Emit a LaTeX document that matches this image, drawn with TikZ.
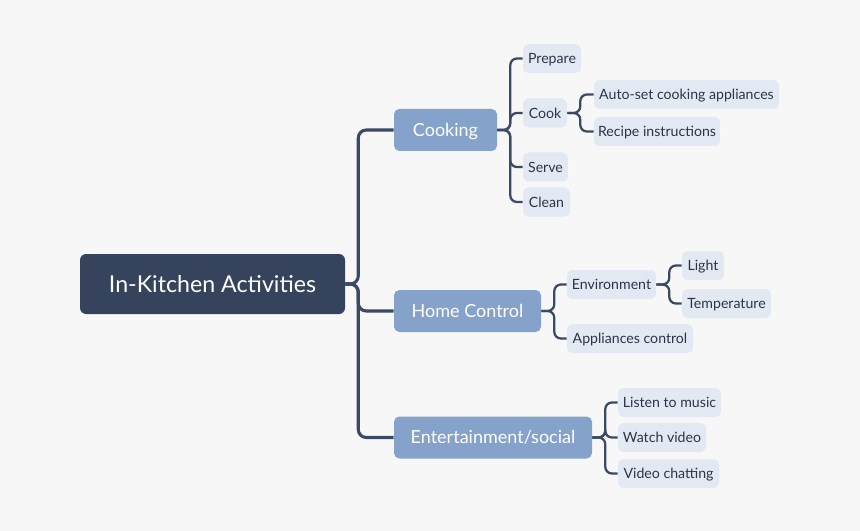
\documentclass[tikz,border=0pt]{standalone}
\usepackage{fontspec}
\setmainfont{Lato}
\usetikzlibrary{positioning}
\definecolor{bgcol}{HTML}{F7F7F7}
\definecolor{rootcol}{HTML}{35445C}
\definecolor{topiccol}{HTML}{84A2CA}
\definecolor{leafcol}{HTML}{E3E9F2}
\definecolor{linecol}{HTML}{3B4A63}
\definecolor{leaftext}{HTML}{2B3548}

\begin{document}
\begin{tikzpicture}[x=0.75pt,y=-0.75pt,
  boxw/.style={minimum width=#1*0.75pt},
  rootbox/.style={fill=rootcol, text=white, rounded corners=4.5pt, minimum height=45pt, text height=12.5pt, text depth=0pt, font=\fontsize{17.4}{19}\selectfont},
  topicbox/.style={fill=topiccol, text=white, rounded corners=4pt, minimum height=31.5pt, text height=9.7pt, text depth=0pt, font=\fontsize{13.5}{15}\selectfont},
  leafbox/.style={fill=leafcol, text=leaftext, rounded corners=4pt, minimum height=21.75pt, text height=7.6pt, text depth=0pt, inner xsep=0pt, font=\fontsize{10.6}{12}\selectfont},
  trunk/.style={draw=linecol, line width=2.3pt, rounded corners=6pt},
  link/.style={draw=linecol, line width=1.7pt, rounded corners=5pt}]
\fill[bgcol] (0,0) rectangle (860,531);
% root and main topics
\node[rootbox, boxw=265] (root) at (212.5,284) {In-Kitchen Activities};
\node[topicbox, boxw=103] (cooking) at (445.5,130) {Cooking};
\node[topicbox, boxw=147] (home) at (467.5,311) {Home Control};
\node[topicbox, boxw=198] (ent) at (493,437.5) {Entertainment/social};
% cooking
\node[leafbox, boxw=58] (prepare) at (552,58.5) {Prepare};
\node[leafbox, boxw=44] (cook) at (545,113) {Cook};
\node[leafbox, boxw=45] (serve) at (545.5,167) {Serve};
\node[leafbox, boxw=47] (clean) at (546.5,202) {Clean};
\node[leafbox, boxw=185] (auto) at (686.5,94.5) {Auto-set cooking appliances};
\node[leafbox, boxw=126] (recipe) at (657,131.5) {Recipe instructions};
% home control
\node[leafbox, boxw=89] (env) at (611.5,284.5) {Environment};
\node[leafbox, boxw=126] (appl) at (630,338.5) {Appliances control};
\node[leafbox, boxw=42] (light) at (703,265.5) {Light};
\node[leafbox, boxw=89] (temp) at (726.5,303.5) {Temperature};
% entertainment
\node[leafbox, boxw=103] (listen) at (669.5,402.5) {Listen to music};
\node[leafbox, boxw=88] (watch) at (662,437.5) {Watch video};
\node[leafbox, boxw=101] (chat) at (668.5,473.5) {Video chatting};
% connectors
\foreach \t in {cooking,home,ent}
  \draw[trunk] (root.east) -- ++(13,0) |- (\t.west);
\foreach \t in {prepare,cook,serve,clean}
  \draw[link] (cooking.east) -- ++(13,0) |- (\t.west);
\foreach \t in {auto,recipe}
  \draw[link] (cook.east) -- ++(13,0) |- (\t.west);
\foreach \t in {env,appl}
  \draw[link] (home.east) -- ++(13,0) |- (\t.west);
\foreach \t in {light,temp}
  \draw[link] (env.east) -- ++(13,0) |- (\t.west);
\foreach \t in {listen,watch,chat}
  \draw[link] (ent.east) -- ++(13,0) |- (\t.west);
\end{tikzpicture}
\end{document}
